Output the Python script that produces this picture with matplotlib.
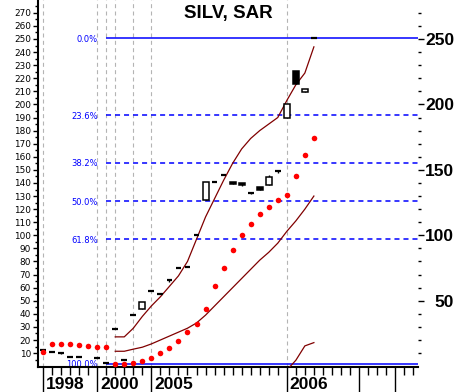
import numpy as np
import matplotlib
matplotlib.use('Agg')
import matplotlib.pyplot as plt
from matplotlib.transforms import blended_transform_factory

nan = np.nan

# Datos de velas (indice de barra 0..30)
opens = [12.2, 11, 10, 7, 7, nan, 6.3, 2.5, 28.7, 5, 39.4, 43.5, 57.4, 55, 65.5, 74.7,
         75.5, 100.5, 127, 140.5, 145.8, 141, 140, 132.6, 137, 138.7, 148.9, 189.6,
         225.6, 209.6, 250.9]
closes = [12.2, 11, 10, 7, 7, nan, 6.3, 2.5, 28.7, 5, 39.4, 49, 57.4, 55, 65.5, 74.7,
          75.5, 100.5, 140.5, 140.5, 145.8, 139, 138.5, 132.6, 135, 144.3, 148.9, 200.2,
          215.5, 212, 250.9]
highs = [12.2, 11, 10, 7, 7, nan, 6.3, 2.5, 28.7, 5, 39.4, 49, 57.4, 55, 65.5, 74.7,
         75.5, 100.5, 140.5, 140.5, 145.8, 141, 140, 132.6, 137, 145.8, 148.9, 200.2,
         225.6, 212, 250.9]
lows = [12.2, 11, 9, 7, 7, nan, 6.3, 2.5, 28.7, 5, 39.4, 43.5, 57.4, 55, 64, 74.7,
        75.5, 100.5, 127, 140.5, 145.8, 139, 137.3, 131.3, 135, 138.7, 147.5, 189.6,
        215.5, 209.6, 250.9]

# SAR parabolico
sar = [11, 17.3, 17.3, 16.8, 16, 15.3, 15, 14.8, 2, 1.5, 2.5, 4, 6, 10.4, 13.7, 19.3,
       26, 32.6, 43.4, 61, 75, 89, 100.5, 109, 116.5, 122, 127, 131, 145, 161, 174]

# Bandas
upper = [nan] * 8 + [22.4, 22.4, 29, 38, 46, 53, 61, 69, 80, 97, 114, 128, 142, 155,
                     166, 174, 180, 185, 190, 203, 215, 224, 244]
lower = [nan] * 8 + [11.4, 11.4, 13, 14.5, 17, 20, 23, 26, 29, 33, 39, 46, 53, 60,
                     67, 74, 81, 87, 94, 103, 111, 120, 130]
third = [nan] * 27 + [-3, 4.5, 15.5, 18]

# Fibonacci
fib_high = 250.5
fib_low = 1.8
fib_ratios = [0.0, 0.236, 0.382, 0.5, 0.618, 1.0]
fib_labels = ['0.0%', '23.6%', '38.2%', '50.0%', '61.8%', '100.0%']

# Eje x
year_pos = [0, 6, 12, 27]
year_labels = ['1998', '2000', '2005', '2006']
long_ticks = [0, 6, 12, 27, 35, 39]
vlines_pos = [0, 6, 7, 8, 10, 12, 27]

x = np.arange(len(opens))

fig = plt.figure(figsize=(4.56, 3.92), dpi=100)
H = 366.7
ax = fig.add_axes([38 / 456, (392 - H) / 392, 380 / 456, H / 392])
ax.set_xlim(-0.554, 41.53)
ax.set_ylim(-0.4, 279.8)

for s in ['top', 'right']:
    ax.spines[s].set_visible(False)
for s in ['left', 'bottom']:
    ax.spines[s].set_linewidth(1.5)

# Lineas verticales grises
for v in vlines_pos:
    ax.axvline(v, color='#b4b4b4', lw=0.8, linestyle=(0, (3.6, 3)), zorder=0)

# Niveles de Fibonacci
xmax = ax.get_xlim()[1]
for r, lab in zip(fib_ratios, fib_labels):
    lvl = fib_high - r * (fib_high - fib_low)
    ls = '-' if r in (0.0, 1.0) else (0, (3.3, 2.6))
    ax.hlines(lvl, 7, xmax, color='#0000ff', lw=1.1, linestyle=ls, zorder=1)
    ax.text(6.05, lvl, lab, color='#0000ff', fontsize=6, ha='right',
            va='center_baseline', family='DejaVu Sans', zorder=2)

# Bandas
ax.plot(x, upper, color='#800000', lw=0.9, zorder=3)
ax.plot(x, lower, color='#800000', lw=0.9, zorder=3)
ax.plot(x, third, color='#800000', lw=0.9, zorder=3)

# Velas
ax.vlines(x, lows, highs, color='black', lw=1, zorder=4)
for i in x:
    o, c = opens[i], closes[i]
    if np.isnan(o):
        continue
    if abs(c - o) < 1.5:
        ax.hlines((o + c) / 2, i - 0.32, i + 0.32, color='black', lw=1.6, zorder=5)
    else:
        fc = 'white' if c > o else 'black'
        ax.bar(i, abs(c - o), bottom=min(o, c), width=0.66, facecolor=fc,
               edgecolor='black', lw=1.1, zorder=5)

# SAR
ax.scatter(x, sar, s=16, color='#ff0000', marker='o', linewidths=0, zorder=6)

# Eje y izquierdo
ax.set_yticks(np.arange(10, 280, 10))
ax.set_yticks(np.arange(5, 280, 10), minor=True)
ax.tick_params(axis='y', which='major', length=3.6, width=1, labelsize=6.4, pad=1.5)
ax.tick_params(axis='y', which='minor', length=2.2, width=1)
for lab in ax.get_yticklabels():
    lab.set_family('DejaVu Sans')

# Eje x
ax.set_xticks(long_ticks)
ax.set_xticks([t for t in range(0, 42) if t not in long_ticks], minor=True)
ax.tick_params(axis='x', which='major', length=18, width=1, labelbottom=False)
ax.tick_params(axis='x', which='minor', length=5.8, width=1)
trans = blended_transform_factory(ax.transData, ax.transAxes)
for p, lab in zip(year_pos, year_labels):
    ax.text(p + 0.3, -22.3 / H, lab, transform=trans, ha='left', va='baseline',
            fontsize=12.5, fontweight='bold', family='Liberation Sans')

# Titulo
ax.text(0.501, 1 - 18 / H, 'SILV, SAR', transform=ax.transAxes, ha='center',
        va='baseline', fontsize=13.5, fontweight='bold', family='Liberation Sans')

# Eje y derecho
ax2 = ax.twinx()
ax2.set_ylim(ax.get_ylim())
for s in ax2.spines.values():
    s.set_visible(False)
ax2.set_yticks([50, 100, 150, 200, 250], ['50', '100', '150', '200', '250'],
               ha='right', fontsize=12.5, fontweight='bold', family='Liberation Sans')
ax2.set_yticks(np.arange(10, 280, 10), minor=True)
ax2.tick_params(axis='y', which='major', length=4.5, width=1, pad=21.5)
ax2.tick_params(axis='y', which='minor', length=2, width=1)

fig.savefig('out.png', dpi=100)
